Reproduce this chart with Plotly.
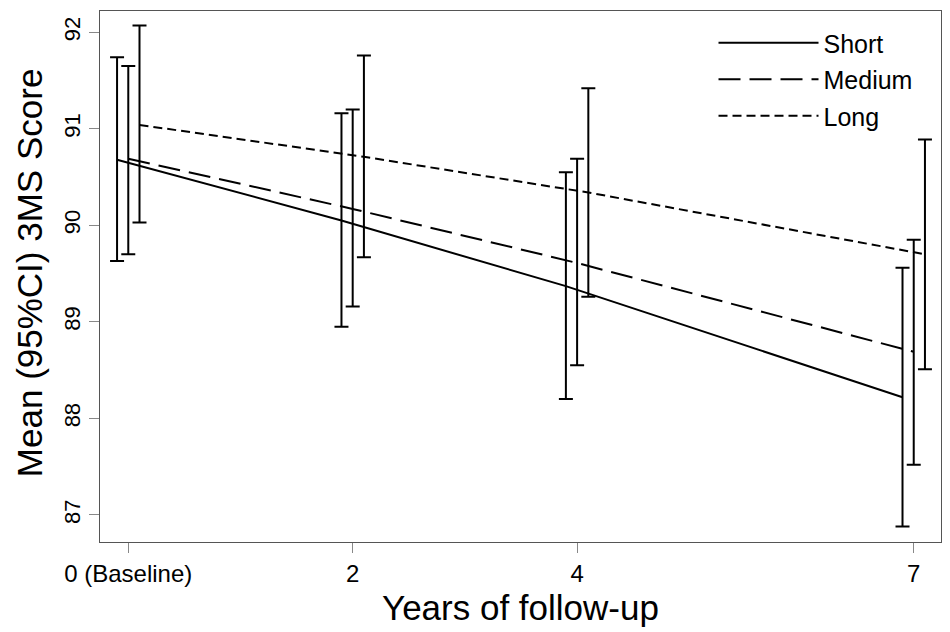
import plotly.graph_objects as go

years = [0, 2, 4, 7]
tick_labels = ['0 (Baseline)', '2', '4', '7']

groups = ['Short', 'Medium', 'Long']
means = {
    'Short': [90.68, 90.05, 89.37, 88.22],
    'Medium': [90.69, 90.17, 89.61, 88.69],
    'Long': [91.04, 90.71, 90.34, 89.70],
}
ci_low = {
    'Short': [89.63, 88.95, 88.20, 86.88],
    'Medium': [89.70, 89.16, 88.55, 87.52],
    'Long': [90.03, 89.67, 89.26, 88.51],
}
ci_high = {
    'Short': [91.74, 91.16, 90.55, 89.56],
    'Medium': [91.65, 91.20, 90.69, 89.85],
    'Long': [92.07, 91.76, 91.42, 90.89],
}

# small horizontal dodge so the error bars don't overlap
dodge = {'Short': -0.1, 'Medium': 0.0, 'Long': 0.1}
dashes = {'Short': 'solid', 'Medium': '22px,9px', 'Long': '9px,5px'}

fig = go.Figure()
for g in groups:
    m = means[g]
    fig.add_trace(go.Scatter(
        x=[y + dodge[g] for y in years],
        y=m,
        mode='lines',
        name=g,
        legendgroup=g,
        line=dict(color='black', width=2, dash=dashes[g]),
        error_y=dict(
            type='data',
            symmetric=False,
            array=[h - v for h, v in zip(ci_high[g], m)],
            arrayminus=[v - l for v, l in zip(m, ci_low[g])],
            color='black',
            thickness=2,
            width=7,
        ),
    ))

# axis titles as annotations so they sit where the original has them
fig.add_annotation(text='Years of follow-up', xref='paper', yref='paper',
                   x=0.5, y=-0.124, xanchor='center', yanchor='middle',
                   showarrow=False, font=dict(size=35))
fig.add_annotation(text='Mean (95%CI) 3MS Score', xref='paper', yref='paper',
                   x=-0.084, y=0.507, xanchor='center', yanchor='middle',
                   textangle=-90, showarrow=False, borderpad=0,
                   font=dict(size=35))

fig.update_layout(
    width=942,
    height=624,
    margin=dict(l=92, r=9, t=3, b=90),
    paper_bgcolor='white',
    plot_bgcolor='white',
    font=dict(family='Liberation Sans, Arial, sans-serif', color='black', size=22),
    legend=dict(
        x=0.7295, y=0.983, xanchor='left', yanchor='top',
        bgcolor='rgba(0,0,0,0)',
        font=dict(size=25),
        itemwidth=100,
        tracegroupgap=1,
    ),
    xaxis=dict(
        range=[-0.252, 7.243],
        tickvals=years,
        ticktext=tick_labels,
        tickfont=dict(size=24),
        ticks='outside',
        ticklen=10,
        tickcolor='#888888',
        showgrid=False,
        zeroline=False,
        showline=True,
        linecolor='#555555',
        linewidth=1,
        mirror=True,
        automargin=False,
    ),
    yaxis=dict(
        range=[86.72, 92.22],
        tickvals=[87, 88, 89, 90, 91, 92],
        tickangle=-90,
        tickfont=dict(size=22),
        ticks='outside',
        ticklen=10,
        tickcolor='#888888',
        showgrid=False,
        zeroline=False,
        showline=True,
        linecolor='#555555',
        linewidth=1,
        mirror=True,
        automargin=False,
    ),
)

fig.write_html("out.html")
